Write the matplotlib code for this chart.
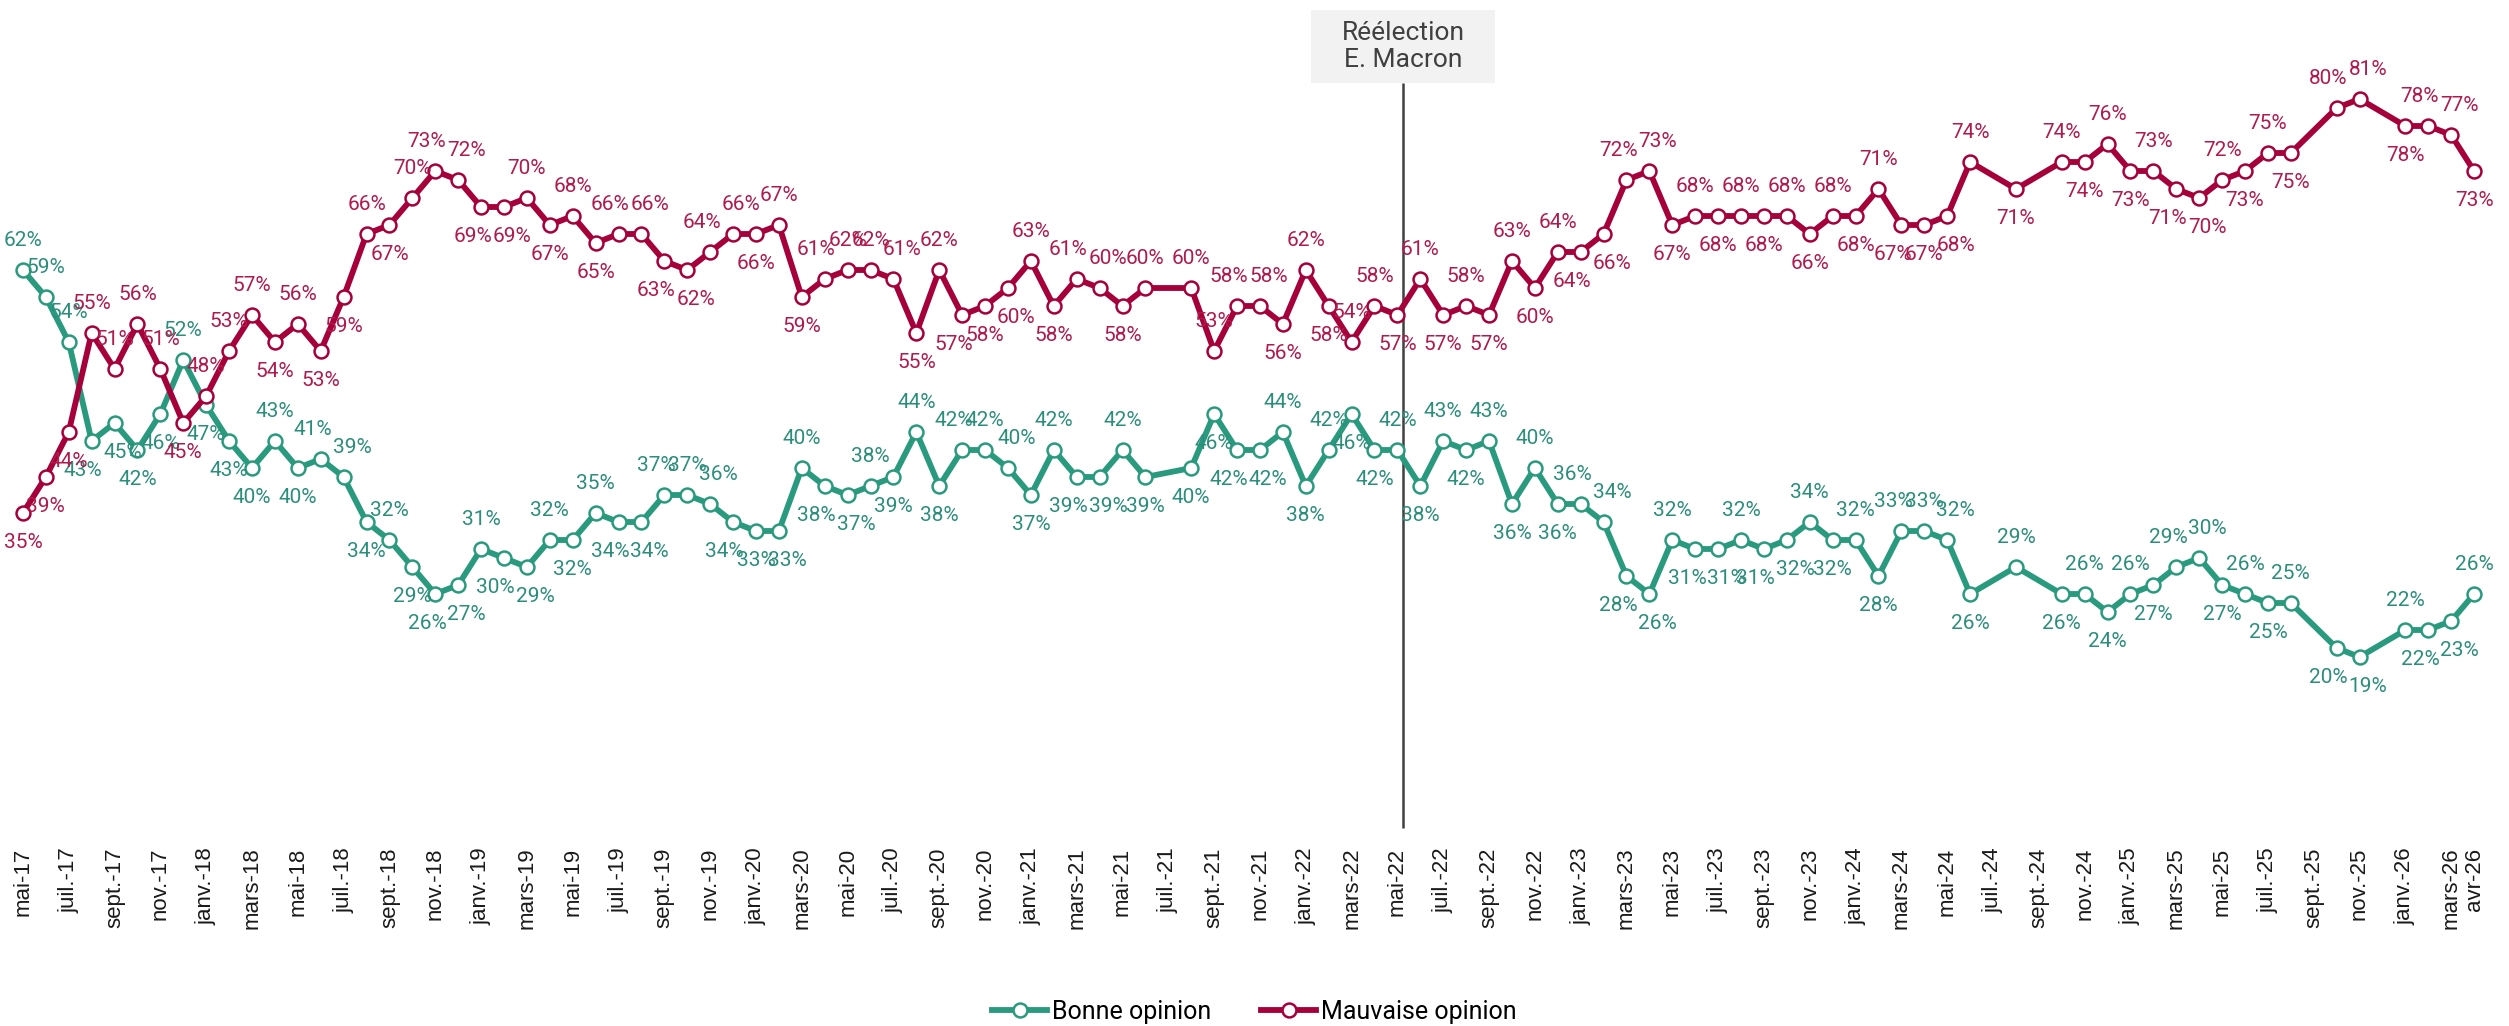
import numpy as np
import matplotlib.pyplot as plt
import matplotlib.patches as patches

# monthly barometer, mai-17 .. avr-26 (None = no poll that month)
bonne = [62, 59, 54, 43, 45, 42, 46, 52, 47, 43, 40, 43, 40, 41,
         39, 34, 32, 29, 26, 27, 31, 30, 29, 32, 32, 35, 34, 34,
         37, 37, 36, 34, 33, 33, 40, 38, 37, 38, 39, 44, 38, 42,
         42, 40, 37, 42, 39, 39, 42, 39, None, 40, 46, 42, 42, 44,
         38, 42, 46, 42, 42, 38, 43, 42, 43, 36, 40, 36, 36, 34,
         28, 26, 32, 31, 31, 32, 31, 32, 34, 32, 32, 28, 33, 33,
         32, 26, None, 29, None, 26, 26, 24, 26, 27, 29, 30, 27, 26,
         25, 25, None, 20, 19, None, 22, 22, 23, 26]
mauvaise = [35, 39, 44, 55, 51, 56, 51, 45, 48, 53, 57, 54, 56, 53,
            59, 66, 67, 70, 73, 72, 69, 69, 70, 67, 68, 65, 66, 66,
            63, 62, 64, 66, 66, 67, 59, 61, 62, 62, 61, 55, 62, 57,
            58, 60, 63, 58, 61, 60, 58, 60, None, 60, 53, 58, 58, 56,
            62, 58, 54, 58, 57, 61, 57, 58, 57, 63, 60, 64, 64, 66,
            72, 73, 67, 68, 68, 68, 68, 68, 66, 68, 68, 71, 67, 67,
            68, 74, None, 71, None, 74, 74, 76, 73, 73, 71, 70, 72, 73,
            75, 75, None, 80, 81, None, 78, 78, 77, 73]

mois = ['janv.', 'févr.', 'mars', 'avr', 'mai', 'juin',
        'juil.', 'août', 'sept.', 'oct.', 'nov.', 'déc.']
dates = [f'{mois[(4 + k) % 12]}-{17 + (4 + k) // 12}' for k in range(len(bonne))]
event_label = 'Réélection\nE. Macron'
event_idx = 60  # mai-22

green, green_txt = '#2A9A7F', '#2B8E7B'
red, red_txt = '#A6003A', '#B01A4C'

fig = plt.figure(figsize=(25.09, 10.26), dpi=100)
ax = fig.add_axes([0.0, 1 - 828 / 1026, 2497 / 2509, 810 / 1026])
ax.set_xlim(-1, 108)
ax.set_ylim(0, 90)


def to_arr(vals):
    return np.array([np.nan if a is None else a for a in vals], float)


def draw(vals, other, col, txt_col, name, tie_up):
    x = np.arange(len(vals))
    v, o = to_arr(vals), to_arr(other)
    ok = ~np.isnan(v)
    ax.plot(x[ok], v[ok], color=col, lw=4.2, marker='o', ms=10,
            mfc='white', mec=col, mew=1.8, label=name, zorder=3,
            solid_joinstyle='round')
    xs, vs, os_ = x[ok], v[ok], o[ok]
    n = len(xs)
    ups = []
    flip = tie_up
    for k in range(n):
        prev = vs[k - 1] if k > 0 else vs[k]
        nxt = vs[k + 1] if k < n - 1 else vs[k]
        d = vs[k] - (prev + nxt) / 2
        if d != 0:
            up = d > 0
            flip = not up
        else:
            up = flip
            flip = not flip
        # keep the label away from the other curve
        gap = os_[k] - vs[k]
        if up and 0 < gap < 10:
            up = False
        elif not up and -10 < gap < 0:
            up = True
        ups.append(up)
    # push neighbouring labels on the same side apart
    dx = np.zeros(n)
    for k in range(1, n):
        if ups[k] == ups[k - 1] and xs[k] - xs[k - 1] == 1 \
                and abs(vs[k] - vs[k - 1]) < 2.5:
            dx[k - 1] -= 6
            dx[k] += 6
    for k in range(n):
        ax.annotate(f'{vs[k]:.0f}%', (xs[k], vs[k]),
                    xytext=(dx[k], 21 if ups[k] else -21),
                    textcoords='offset points',
                    ha='center', va='center', fontsize=15,
                    color=txt_col, family='Roboto', zorder=4)


draw(bonne, mauvaise, green, green_txt, 'Bonne opinion', False)
draw(mauvaise, bonne, red, red_txt, 'Mauvaise opinion', True)

# election marker
ex = event_idx + 0.25
ax.vlines(ex, 0, 82.8, color='#404040', lw=1.8, zorder=2, clip_on=False)
ax.add_patch(patches.Rectangle((ex - 4.0, 82.8), 8.0, 8.1, facecolor='#F2F2F2',
                               edgecolor='none', clip_on=False, zorder=1))
ax.text(ex, 86.85, event_label, ha='center', va='center', fontsize=19,
        color='#404040', family='Roboto', linespacing=1.15, clip_on=False)

ticks = list(range(0, len(dates), 2)) + [len(dates) - 1]
ax.set_xticks(ticks)
ax.set_xticklabels([dates[t] for t in ticks], rotation=90, fontsize=16,
                   family='Liberation Sans', color='#1a1a1a')
ax.tick_params(axis='x', length=0, pad=14)
ax.set_yticks([])
for s in ax.spines.values():
    s.set_visible(False)

fig.legend(loc='center', bbox_to_anchor=(0.5, 1 - 1012 / 1026), ncol=2,
           frameon=False, handlelength=2.2, columnspacing=2.0,
           handletextpad=0.2, prop={'family': 'Roboto', 'size': 18})

fig.savefig('out.png', dpi=100)
